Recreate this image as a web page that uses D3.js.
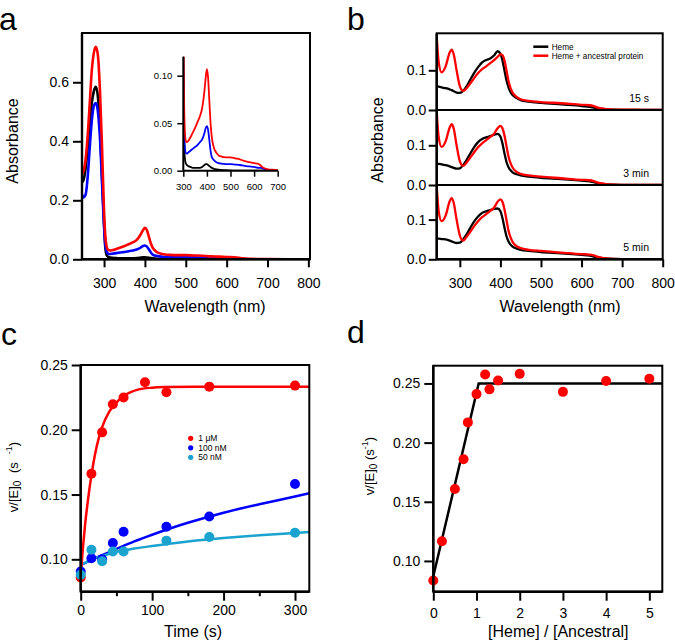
<!DOCTYPE html>
<html><head><meta charset="utf-8">
<script src="https://cdn.jsdelivr.net/npm/d3@7"></script>
<style>
body{margin:0;background:#fff}
svg{display:block}
text{font-family:"Liberation Sans",Arial,Helvetica,sans-serif;fill:#000}
</style>
</head><body>
<script>
// ---------------- DATA ----------------
// Panel a: spectra
const wlA = [246,250,255,260,265,270,275,280,285,290,295,300,303,306,310,315,320,330,340,350,360,370,380,390,395,400,405,410,415,420,430,440,450,460,480,500,520,540,560,580,600,620,630,640,650,660,680,700,750,800,804];
const redA = [0.29,0.30,0.34,0.42,0.53,0.64,0.70,0.72,0.69,0.57,0.38,0.16,0.08,0.045,0.032,0.030,0.031,0.035,0.040,0.045,0.051,0.057,0.066,0.085,0.098,0.107,0.098,0.075,0.052,0.037,0.024,0.019,0.016,0.015,0.014,0.014,0.013,0.012,0.010,0.009,0.008,0.007,0.005,0.003,0.002,0.0015,0.001,0.0005,0,0,0];
const blueA = [0.22,0.21,0.22,0.28,0.38,0.47,0.52,0.53,0.50,0.41,0.26,0.11,0.05,0.028,0.019,0.018,0.019,0.021,0.023,0.025,0.027,0.030,0.033,0.040,0.045,0.047,0.043,0.033,0.022,0.015,0.011,0.009,0.008,0.0075,0.007,0.007,0.0065,0.006,0.005,0.0045,0.004,0.003,0.003,0.002,0.0005,0,0,0,0,0,0];
const blackA = [0.26,0.27,0.31,0.38,0.46,0.53,0.57,0.585,0.55,0.45,0.28,0.12,0.04,0.015,0.008,0.006,0.005,0.004,0.003,0.003,0.003,0.003,0.004,0.006,0.007,0.007,0.006,0.005,0.004,0.003,0.002,0.0015,0.001,0.0008,0.0005,0.0003,0,0,0,0,0,0,0,0,0,0,0,0,0,0,0];
const ticksA = [300,400,500,600,700,800];
const yTicksA = [0,0.2,0.4,0.6];
const insetXTicks = [300,400,500,600,700];
const insetYTicks = [0,0.05,0.10];

// Panel b: spectra at three times
const wlB = [243,248,255,265,275,280,285,292,300,308,315,325,335,345,355,365,375,385,393,400,405,410,415,420,425,430,440,450,470,500,550,600,620,630,640,650,660,680,700,750,800];
const red15s = [0.185,0.12,0.095,0.11,0.145,0.152,0.14,0.10,0.06,0.048,0.053,0.066,0.08,0.093,0.103,0.11,0.118,0.126,0.134,0.14,0.138,0.125,0.10,0.073,0.055,0.044,0.033,0.027,0.023,0.02,0.017,0.013,0.012,0.01,0.006,0.004,0.002,0.001,0.001,0.0005,0];
const black15s = [0.06,0.059,0.057,0.055,0.052,0.05,0.047,0.044,0.043,0.048,0.057,0.075,0.093,0.108,0.12,0.126,0.13,0.138,0.148,0.142,0.125,0.10,0.075,0.057,0.045,0.038,0.03,0.025,0.021,0.018,0.014,0.01,0.008,0.006,0.004,0.003,0.002,0.001,0.0005,0,0];
const red3min = [0.185,0.12,0.096,0.11,0.145,0.153,0.142,0.10,0.06,0.048,0.054,0.068,0.082,0.095,0.105,0.113,0.121,0.13,0.143,0.149,0.143,0.125,0.098,0.072,0.055,0.044,0.033,0.028,0.024,0.021,0.017,0.013,0.012,0.01,0.006,0.004,0.002,0.001,0.0005,0,0];
const black3min = [0.053,0.053,0.052,0.05,0.047,0.045,0.043,0.041,0.042,0.05,0.06,0.078,0.095,0.108,0.116,0.12,0.123,0.127,0.129,0.122,0.105,0.08,0.058,0.045,0.037,0.032,0.027,0.024,0.021,0.018,0.015,0.011,0.009,0.007,0.004,0.003,0.002,0.001,0.0005,0,0];
const red5min = [0.185,0.12,0.096,0.11,0.146,0.154,0.142,0.10,0.06,0.047,0.054,0.068,0.083,0.096,0.106,0.114,0.122,0.131,0.145,0.151,0.145,0.126,0.099,0.072,0.055,0.044,0.033,0.028,0.024,0.021,0.017,0.013,0.012,0.01,0.006,0.004,0.002,0.001,0.0005,0,0];
const black5min = [0.052,0.052,0.051,0.05,0.047,0.045,0.043,0.041,0.042,0.05,0.06,0.078,0.095,0.108,0.117,0.121,0.124,0.127,0.128,0.121,0.104,0.08,0.058,0.045,0.037,0.032,0.027,0.024,0.021,0.018,0.015,0.011,0.009,0.007,0.004,0.003,0.002,0.001,0.0005,0,0];
const timeLabelsB = ["15 s","3 min","5 min"];
const legendB = ["Heme","Heme + ancestral protein"];
const yTicksB = [0,0.1];

// Panel c: kinetics
const timeC = [0,15,30,45,60,90,120,180,300];
const rate1uM = [0.086,0.166,0.198,0.2197,0.2249,0.2367,0.229,0.2333,0.2341];
const timeC2 = [0,15,30,45,60,120,180,300];
const rate100nM = [0.0905,0.1008,0.100,0.1126,0.1213,0.1251,0.1331,0.1582];
const rate50nM = [0.088,0.1074,0.0985,0.106,0.106,0.1144,0.1172,0.1205];
const fitTimeRed = [0,3,6,10,15,20,25,30,40,50,60,70,80,100,120,160,200,320];
const fitRed = [0.087,0.108,0.126,0.145,0.165,0.181,0.193,0.202,0.214,0.221,0.226,0.229,0.231,0.2325,0.233,0.2333,0.2333,0.2333];
const fitTimeBlue = [0,25,50,75,100,125,150,200,250,300,320];
const fitBlue = [0.0955,0.102,0.108,0.1138,0.119,0.1238,0.1282,0.136,0.1425,0.1485,0.151];
const fitTimeCyan = [0,10,20,30,50,75,100,150,200,250,300,320];
const fitCyan = [0.0955,0.0985,0.101,0.1025,0.1058,0.1083,0.1103,0.1138,0.1164,0.1186,0.1204,0.121];
const legendC = ["1 \u03bcM","100 nM","50 nM"];
const xTicksC = [0,100,200,300];
const xMinorC = [50,150,250];
const yTicksC = [0.10,0.15,0.20,0.25];

// Panel d: titration
const ratioD = [0,0.2,0.5,0.7,0.8,1.0,1.2,1.3,1.5,2,3,4,5];
const rateD = [0.0834,0.1166,0.1608,0.186,0.2171,0.241,0.2576,0.245,0.2525,0.2581,0.2429,0.252,0.254];
const fitRatioD = [0,1.05,5.3];
const fitRateD = [0.087,0.25,0.25];
const xTicksD = [0,1,2,3,4,5];
const yTicksD = [0.10,0.15,0.20,0.25];

// ---------------- STYLE ----------------
const RED = "#ff0000", BLUE = "#0000ff", CYAN = "#1aa3cf", BLACK = "#000";
const FONT = '"Liberation Sans",Arial,Helvetica,sans-serif';

const svg = d3.select("body").append("svg").attr("width",675).attr("height",642);
svg.append("rect").attr("width",675).attr("height",642).attr("fill","#fff");
const defs = svg.append("defs");

function styleAxis(g, fs){
  g.select(".domain").remove();
  g.selectAll(".tick line").attr("stroke","#000").attr("stroke-width",2);
  g.selectAll(".tick text").attr("font-size",fs).attr("font-family",FONT).attr("fill","#000");
}
function frame(x0,y0,x1,y1){
  svg.append("rect").attr("x",x0).attr("y",y0).attr("width",x1-x0).attr("height",y1-y0)
    .attr("fill","none").attr("stroke","#000").attr("stroke-width",2);
  svg.append("line").attr("x1",x0).attr("x2",x1).attr("y1",y1).attr("y2",y1).attr("stroke","#000").attr("stroke-width",2.6);
  svg.append("line").attr("x1",x0).attr("x2",x0).attr("y1",y0).attr("y2",y1).attr("stroke","#000").attr("stroke-width",2.4);
}
function clip(id,x0,y0,x1,y1){
  defs.append("clipPath").attr("id",id).append("rect").attr("x",x0).attr("y",y0).attr("width",x1-x0).attr("height",y1-y0);
  return "url(#"+id+")";
}
function panelLabel(t,x,y){
  svg.append("text").attr("x",x).attr("y",y).attr("font-size",32).text(t);
}
function rotLabel(t,x,y,fs){
  svg.append("text").attr("transform",`translate(${x},${y}) rotate(-90)`).attr("text-anchor","middle").attr("font-size",fs).text(t);
}
function rateLabel(x,y,gap){
  const t = svg.append("text").attr("transform",`translate(${x},${y}) rotate(-90)`).attr("text-anchor","middle").attr("font-size",13);
  t.append("tspan").text("v/[E]");
  t.append("tspan").attr("font-size",10).attr("dy",3).text("0");
  t.append("tspan").attr("dy",-3).attr("dx",gap).text(" (s");
  t.append("tspan").attr("font-size",9).attr("dy",-6).attr("dx",gap*2).text("-1");
  t.append("tspan").attr("dy",6).text(")");
}

// ---------------- PANEL A ----------------
{
  const x = d3.scaleLinear([246,804],[82,310]);
  const y = d3.scaleLinear([0,0.767],[259.3,33]);
  const cp = clip("clipA",82,33,310,259.3);
  const line = d3.line().x(d=>x(d[0])).y(d=>y(d[1])).curve(d3.curveMonotoneX);
  const series = [[blackA,BLACK],[blueA,BLUE],[redA,RED]];
  series.forEach(([vals,c])=>{
    svg.append("path").attr("clip-path",cp).attr("d",line(wlA.map((w,i)=>[w,vals[i]])))
      .attr("fill","none").attr("stroke",c).attr("stroke-width",2.6).attr("stroke-linejoin","round");
  });
  frame(82,33,310,259.3);
  svg.append("g").attr("transform","translate(0,259.3)")
    .call(d3.axisBottom(x).tickValues(ticksA).tickSize(8).tickPadding(10.5).tickFormat(d3.format("d")))
    .call(g=>styleAxis(g,14));
  svg.append("g").attr("transform","translate(82,0)")
    .call(d3.axisLeft(y).tickValues(yTicksA).tickSize(9).tickPadding(4).tickFormat(d3.format(".1f")))
    .call(g=>styleAxis(g,14));
  rotLabel("Absorbance",18.3,141,16);
  svg.append("text").attr("x",205).attr("y",311.5).attr("text-anchor","middle").attr("font-size",16).text("Wavelength (nm)");
  panelLabel("a",-1,30);

  // inset
  const xi = d3.scaleLinear([300,700],[183.3,277.7]);
  const yi = d3.scaleLinear([0,0.12],[170.7,56.7]);
  const cpi = clip("clipAi",183.3,56.7,278,170.7);
  const linei = d3.line().x(d=>xi(d[0])).y(d=>yi(d[1])).curve(d3.curveMonotoneX);
  series.forEach(([vals,c])=>{
    svg.append("path").attr("clip-path",cpi).attr("d",linei(wlA.map((w,i)=>[w,vals[i]])))
      .attr("fill","none").attr("stroke",c).attr("stroke-width",1.8).attr("stroke-linejoin","round");
  });
  svg.append("line").attr("x1",183.3).attr("x2",183.3).attr("y1",56.7).attr("y2",170.7).attr("stroke","#000").attr("stroke-width",2);
  svg.append("line").attr("x1",183.3).attr("x2",277.7).attr("y1",170.7).attr("y2",170.7).attr("stroke","#000").attr("stroke-width",2);
  svg.append("g").attr("transform","translate(0,170.7)")
    .call(d3.axisBottom(xi).tickValues(insetXTicks).tickSize(6).tickPadding(6.5).tickFormat(d3.format("d")))
    .call(g=>styleAxis(g,9.5)).call(g=>g.selectAll(".tick line").attr("stroke-width",1.5));
  svg.append("g").attr("transform","translate(183.3,0)")
    .call(d3.axisLeft(yi).tickValues(insetYTicks).tickSize(6).tickPadding(5).tickFormat(d3.format(".2f")))
    .call(g=>styleAxis(g,9.5)).call(g=>g.selectAll(".tick line").attr("stroke-width",1.5));
}

// ---------------- PANEL B ----------------
{
  const x = d3.scaleLinear([243,800],[436.7,662.7]);
  const subs = [
    {red:red15s, black:black15s, y0:110, top:33.3},
    {red:red3min, black:black3min, y0:185, top:110},
    {red:red5min, black:black5min, y0:259.3, top:185}
  ];
  subs.forEach((s,k)=>{
    const y = d3.scaleLinear([0,0.1],[s.y0,s.y0-39.7]);
    const cp = clip("clipB"+k,436.7,s.top,662.7,s.y0);
    const line = d3.line().x(d=>x(d[0])).y(d=>y(d[1])).curve(d3.curveMonotoneX);
    [[s.black,BLACK],[s.red,RED]].forEach(([vals,c])=>{
      svg.append("path").attr("clip-path",cp).attr("d",line(wlB.map((w,i)=>[w,vals[i]])))
        .attr("fill","none").attr("stroke",c).attr("stroke-width",2.3).attr("stroke-linejoin","round");
    });
    svg.append("g").attr("transform","translate(436.7,0)")
      .call(d3.axisLeft(y).tickValues(yTicksB).tickSize(8).tickPadding(2.5).tickFormat(d3.format(".1f")))
      .call(g=>styleAxis(g,14));
    svg.append("text").attr("x",649).attr("y",s.y0-8).attr("text-anchor","end").attr("font-size",10.5).text(timeLabelsB[k]);
  });
  frame(436.7,33.3,662.7,259.3);
  [110,185].forEach(yy=>svg.append("line").attr("x1",436.7).attr("x2",662.7).attr("y1",yy).attr("y2",yy).attr("stroke","#000").attr("stroke-width",2));
  svg.append("g").attr("transform","translate(0,259.3)")
    .call(d3.axisBottom(x).tickValues(ticksA).tickSize(8).tickPadding(10.5).tickFormat(d3.format("d")))
    .call(g=>styleAxis(g,14));
  rotLabel("Absorbance",383.3,140,16);
  svg.append("text").attr("x",560).attr("y",311.5).attr("text-anchor","middle").attr("font-size",16).text("Wavelength (nm)");
  panelLabel("b",347,30);
  // legend
  [[BLACK,46.7],[RED,55.7]].forEach(([c,yy],i)=>{
    svg.append("line").attr("x1",533.3).attr("x2",548.3).attr("y1",yy).attr("y2",yy).attr("stroke",c).attr("stroke-width",2.5);
    svg.append("text").attr("x",551.7).attr("y",yy+3).attr("font-size",8.2).text(legendB[i]);
  });
}

// ---------------- PANEL C ----------------
{
  const x = d3.scaleLinear([0,320],[80.7,309.3]);
  const y = d3.scaleLinear([0.075,0.25],[591.7,365]);
  const cp = clip("clipC",80.7,365,309.3,591.7);
  const line = d3.line().x(d=>x(d[0])).y(d=>y(d[1])).curve(d3.curveMonotoneX);
  [[fitTimeBlue,fitBlue,BLUE],[fitTimeCyan,fitCyan,CYAN],[fitTimeRed,fitRed,RED]].forEach(([t,v,c])=>{
    svg.append("path").attr("clip-path",cp).attr("d",line(t.map((tt,i)=>[tt,v[i]])))
      .attr("fill","none").attr("stroke",c).attr("stroke-width",2.5);
  });
  [[timeC,rate1uM,RED],[timeC2,rate100nM,BLUE],[timeC2,rate50nM,CYAN]].forEach(([t,v,c])=>{
    svg.append("g").selectAll("circle").data(t.map((tt,i)=>[tt,v[i]])).join("circle")
      .attr("cx",d=>x(d[0])).attr("cy",d=>y(d[1])).attr("r",5).attr("fill",c);
  });
  frame(80.7,365,309.3,591.7);
  svg.append("g").attr("transform","translate(0,591.7)")
    .call(d3.axisBottom(x).tickValues(xTicksC).tickSize(9).tickPadding(4.5).tickFormat(d3.format("d")))
    .call(g=>styleAxis(g,14));
  svg.append("g").attr("transform","translate(0,591.7)")
    .call(d3.axisBottom(x).tickValues(xMinorC).tickSize(4.5).tickFormat(""))
    .call(g=>styleAxis(g,14));
  svg.append("g").attr("transform","translate(80.7,0)")
    .call(d3.axisLeft(y).tickValues(yTicksC).tickSize(9).tickPadding(4).tickFormat(d3.format(".2f")))
    .call(g=>styleAxis(g,14));
  rateLabel(17.5,477,4);
  svg.append("text").attr("x",193).attr("y",636.5).attr("text-anchor","middle").attr("font-size",16).text("Time (s)");
  panelLabel("c",1,345);
  [RED,BLUE,CYAN].forEach((c,i)=>{
    const yy = 438.3 + i*9.5;
    svg.append("circle").attr("cx",190.7).attr("cy",yy).attr("r",2.6).attr("fill",c);
    svg.append("text").attr("x",198.3).attr("y",yy+3).attr("font-size",8.5).text(legendC[i]);
  });
}

// ---------------- PANEL D ----------------
{
  const x = d3.scaleLinear([0,5.3],[433.3,662.3]);
  const y = d3.scaleLinear([0.074,0.265],[591.7,365.7]);
  const cp = clip("clipD",433.3,365.7,662.3,591.7);
  const line = d3.line().x(d=>x(d[0])).y(d=>y(d[1]));
  svg.append("path").attr("clip-path",cp).attr("d",line(fitRatioD.map((r,i)=>[r,fitRateD[i]])))
    .attr("fill","none").attr("stroke",BLACK).attr("stroke-width",2.5);
  svg.append("g").selectAll("circle").data(ratioD.map((r,i)=>[r,rateD[i]])).join("circle")
    .attr("cx",d=>x(d[0])).attr("cy",d=>y(d[1])).attr("r",5).attr("fill",RED);
  frame(433.3,365.7,662.3,591.7);
  svg.append("g").attr("transform","translate(0,591.7)")
    .call(d3.axisBottom(x).tickValues(xTicksD).tickSize(9).tickPadding(7).tickFormat(d3.format("d")))
    .call(g=>styleAxis(g,14));
  svg.append("g").attr("transform","translate(433.3,0)")
    .call(d3.axisLeft(y).tickValues(yTicksD).tickSize(9).tickPadding(4).tickFormat(d3.format(".2f")))
    .call(g=>styleAxis(g,14));
  rateLabel(374,466,0);
  svg.append("text").attr("x",558.3).attr("y",636.5).attr("text-anchor","middle").attr("font-size",16).text("[Heme] / [Ancestral]");
  panelLabel("d",347,343);
}
</script>
</body></html>
